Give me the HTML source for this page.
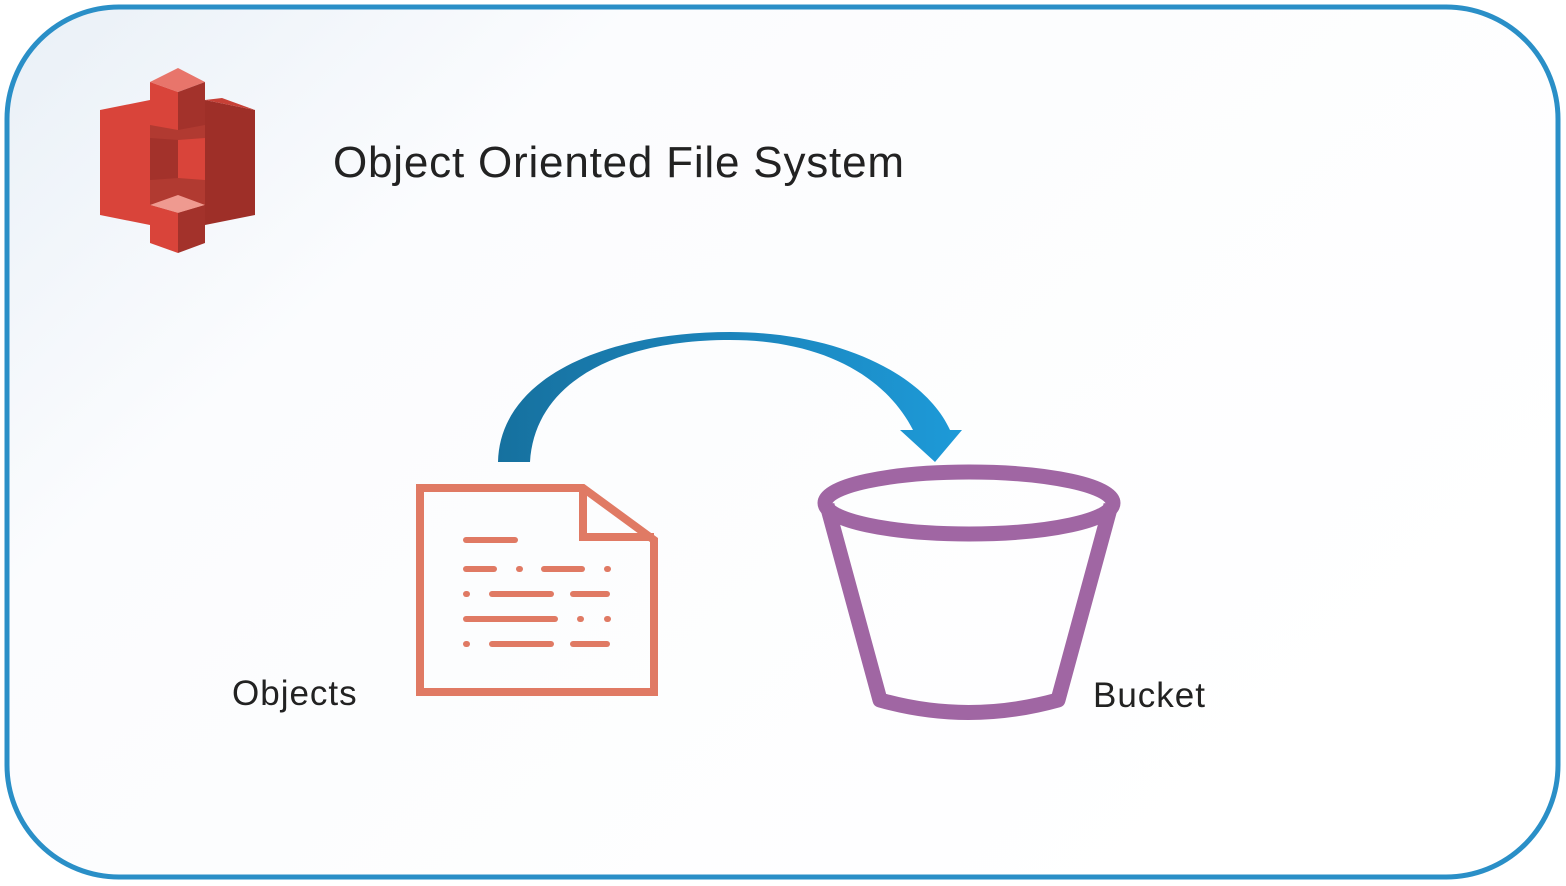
<!DOCTYPE html>
<html><head><style>
html,body{margin:0;padding:0;width:1566px;height:886px;overflow:hidden;background:#fff;}
</style></head><body>
<svg width="1566" height="886" viewBox="0 0 1566 886" xmlns="http://www.w3.org/2000/svg">
<defs>
<linearGradient id="bg" x1="0" y1="0" x2="1" y2="0.6">
<stop offset="0" stop-color="#e9f0f7"/><stop offset="0.3" stop-color="#fbfcfe"/><stop offset="1" stop-color="#ffffff"/>
</linearGradient>
<linearGradient id="ar" x1="0" y1="0" x2="1" y2="0">
<stop offset="0" stop-color="#16719f"/><stop offset="0.5" stop-color="#1c84bb"/><stop offset="1" stop-color="#1d9ad8"/>
</linearGradient>
</defs>
<rect x="0" y="0" width="1566" height="886" fill="#fff"/>
<rect x="7" y="7" width="1551" height="870" rx="112" fill="url(#bg)" stroke="#2a8fc7" stroke-width="5"/>
<!-- S3 logo -->
<g>
<polygon points="150,100 205,100 205,225 150,225" fill="#b13a31"/>
<polygon points="100,110 150,100 150,225 100,215" fill="#d9443a"/>
<polygon points="205,100 255,110 255,215 205,225" fill="#9e2f28"/>
<polygon points="205,100 222,98 255,110" fill="#c74036"/>
<polygon points="150,82 178,68 205,82 178,92" fill="#e8756b"/>
<polygon points="150,82 178,92 178,130 150,125" fill="#d9443a"/>
<polygon points="178,92 205,82 205,125 178,130" fill="#a3322b"/>
<polygon points="150,138 178,140 178,178 150,180" fill="#a3322b"/>
<polygon points="178,140 205,138 205,180 178,178" fill="#d9443a"/>
<polygon points="150,205 178,195 205,205 178,213" fill="#ef9a90"/>
<polygon points="150,205 178,213 178,253 150,243" fill="#d9443a"/>
<polygon points="178,213 205,205 205,243 178,253" fill="#a3322b"/>
</g>
<text x="333" y="177" font-family="Liberation Sans, sans-serif" font-size="44" letter-spacing="0.8" fill="#222">Object Oriented File System</text>
<!-- arrow -->
<path d="M498,462 C500,375 610,332 730,332 C840,332 925,375 950,430 L962,430 L935,462 L900,430 L913,430 C885,375 820,340 730,340 C620,340 535,380 530,462 Z" fill="url(#ar)"/>
<!-- document -->
<g fill="none" stroke="#e07a64" stroke-width="8">
<path d="M420,488 L583,488 L654,540 L654,692 L420,692 Z"/>
<path d="M583,488 L583,537 L654,537"/>
</g>
<g stroke="#e07a64" stroke-width="6" stroke-linecap="round">
<line x1="466" y1="540" x2="515" y2="540"/>
<line x1="466" y1="569" x2="494" y2="569"/><line x1="519" y1="569" x2="520" y2="569"/><line x1="544" y1="569" x2="582" y2="569"/><line x1="607" y1="569" x2="608" y2="569"/>
<line x1="466" y1="594" x2="467" y2="594"/><line x1="492" y1="594" x2="551" y2="594"/><line x1="573" y1="594" x2="607" y2="594"/>
<line x1="466" y1="619" x2="555" y2="619"/><line x1="580" y1="619" x2="581" y2="619"/><line x1="607" y1="619" x2="608" y2="619"/>
<line x1="466" y1="644" x2="467" y2="644"/><line x1="492" y1="644" x2="551" y2="644"/><line x1="573" y1="644" x2="607" y2="644"/>
</g>
<!-- bucket -->
<g fill="none" stroke="#a066a3" stroke-width="15" stroke-linejoin="round">
<ellipse cx="969" cy="503" rx="144" ry="31"/>
<path d="M827,505 L880,700 Q968,725 1058,700 L1111,505"/>
</g>
<text x="232" y="705" font-family="Liberation Sans, sans-serif" font-size="35" letter-spacing="1" fill="#222">Objects</text>
<text x="1093" y="707" font-family="Liberation Sans, sans-serif" font-size="35" letter-spacing="1" fill="#222">Bucket</text>
</svg>
</body></html>
